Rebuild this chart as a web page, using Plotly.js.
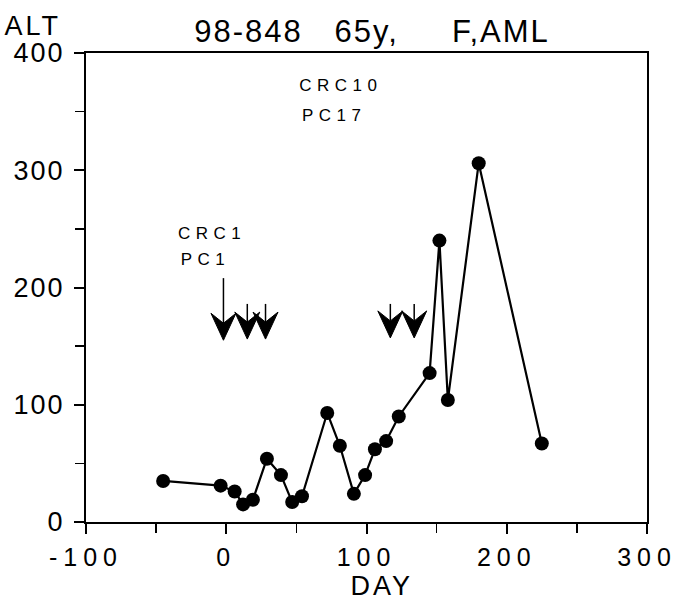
<!DOCTYPE html>
<html>
<head>
<meta charset="utf-8">
<script src="https://cdn.plot.ly/plotly-3.0.1.min.js"></script>
<style>
  body { margin: 0; background: #fff; }
  .xtick text { letter-spacing: 6px; }
  .ytick text { letter-spacing: 2px; }
  .gtitle { letter-spacing: 2px; }
  .annotation-text.spaced { letter-spacing: 5.5px; }
  .annotation-text.wide { letter-spacing: 3px; }
</style>
</head>
<body>
<div id="chart" style="width:690px;height:601px;"></div>
<script>
// ALT measurements by day
const days = [-45, -4, 6, 12, 19, 29, 39, 47, 54, 72, 81, 91, 99, 106, 114, 123, 145, 152, 158, 180, 225];
const alt  = [35, 31, 26, 15, 19, 54, 40, 17, 22, 93, 65, 24, 40, 62, 69, 90, 127, 240, 104, 306, 67];

// treatment arrows
const arrowDays = [-2, 15, 28, 117, 134];
const arrowTop  = [208, 186, 186, 186, 186];
const arrowTip  = [155, 156, 156, 157, 157];

// text notes
const noteLines = ["CRC1", "PC1", "CRC10", "PC17"];
const noteX     = [-31, -31, 54.5, 54.5];
const noteY     = [246, 223.5, 372, 347];

const xTicks = [-100, 0, 100, 200, 300];
const xTickText = ["-100", "0", "100", "200", "300"];
const yTicks = [0, 100, 200, 300, 400];

const W = 690, H = 601;
const M = {l: 86, r: 43, t: 53, b: 79};
const xRange = [-100, 300], yRange = [0, 400];
const plotW = W - M.l - M.r, plotH = H - M.t - M.b;
const pxX = (xRange[1] - xRange[0]) / plotW;
const pxY = (yRange[1] - yRange[0]) / plotH;
const paperX = px => (px - M.l) / plotW;
const paperY = py => (H - M.b - py) / plotH;

// arrowhead geometry in pixels
const headHalf = 12.5, headBack = 27, headNotch = 17;

const shaftX = [], shaftY = [], headX = [], headY = [];
arrowDays.forEach((d, i) => {
  const tip = arrowTip[i];
  shaftX.push(d, d, null);
  shaftY.push(arrowTop[i], tip + headNotch * pxY, null);
  headX.push(d, d - headHalf * pxX, d, d + headHalf * pxX, d, null);
  headY.push(tip, tip + headBack * pxY, tip + headNotch * pxY, tip + headBack * pxY, tip, null);
});

const traces = [
  {x: shaftX, y: shaftY, mode: 'lines', line: {color: '#000', width: 1.5}, hoverinfo: 'skip', showlegend: false},
  {x: headX, y: headY, mode: 'lines', fill: 'toself', fillcolor: '#000', line: {color: '#000', width: 1}, hoverinfo: 'skip', showlegend: false},
  {x: days, y: alt, mode: 'lines+markers', line: {color: '#000', width: 2.2}, marker: {color: '#000', size: 14, symbol: 'circle'}, showlegend: false}
];

const FONT = 'Liberation Sans, Arial, sans-serif';
const annotations = noteLines.map((t, i) => ({
  x: noteX[i], y: noteY[i], xref: 'x', yref: 'y', text: t, showarrow: false,
  xanchor: 'left', yanchor: 'middle', xshift: i < 2 ? 4 : 8,
  font: {family: FONT, size: 17, color: '#000'}
}));
annotations.push({
  x: paperX(7), y: paperY(26), xref: 'paper', yref: 'paper', xanchor: 'left', yanchor: 'middle',
  text: 'ALT', showarrow: false, font: {family: FONT, size: 27, color: '#000'}
});
annotations.push({
  x: paperX(382), y: paperY(586), xref: 'paper', yref: 'paper', xanchor: 'center', yanchor: 'middle',
  text: 'DAY', showarrow: false, font: {family: FONT, size: 27, color: '#000'}
});

const layout = {
  width: W, height: H,
  margin: M,
  paper_bgcolor: '#fff', plot_bgcolor: '#fff',
  title: {text: '98-848&nbsp;&nbsp;&nbsp;65y,&nbsp;&nbsp;&nbsp;&nbsp;&nbsp;F,AML', x: 372 / W, xref: 'container', xanchor: 'center', y: 1 - 31 / H, yanchor: 'middle', yref: 'container',
          font: {family: FONT, size: 31, color: '#000'}},
  xaxis: {
    range: xRange, tickvals: xTicks, ticktext: xTickText, ticks: 'outside', ticklen: 10, tickwidth: 2, tickcolor: '#000',
    showline: true, linecolor: '#000', linewidth: 2, mirror: true, showgrid: false, zeroline: false,
    minor: {tickvals: [-50, 50, 150, 250], ticks: 'outside', ticklen: 9, tickwidth: 1.5, tickcolor: '#000'},
    tickfont: {family: FONT, size: 25, color: '#000'}, ticklabelstandoff: 2
  },
  yaxis: {
    range: yRange, tickvals: yTicks, ticks: 'outside', ticklen: 10, tickwidth: 2, tickcolor: '#000',
    showline: true, linecolor: '#000', linewidth: 2, mirror: true, showgrid: false, zeroline: false,
    minor: {tickvals: [50, 150, 250, 350], ticks: 'outside', ticklen: 9, tickwidth: 1.5, tickcolor: '#000'},
    tickfont: {family: FONT, size: 27, color: '#000'}, ticklabelstandoff: 4
  },
  annotations: annotations
};

Plotly.newPlot('chart', traces, layout, {displayModeBar: false, staticPlot: true}).then(() => {
  document.querySelectorAll('.annotation-text').forEach(el => {
    if (noteLines.includes(el.textContent)) el.classList.add('spaced');
    if (el.textContent === 'ALT' || el.textContent === 'DAY') el.classList.add('wide');
  });
});
</script>
</body>
</html>
